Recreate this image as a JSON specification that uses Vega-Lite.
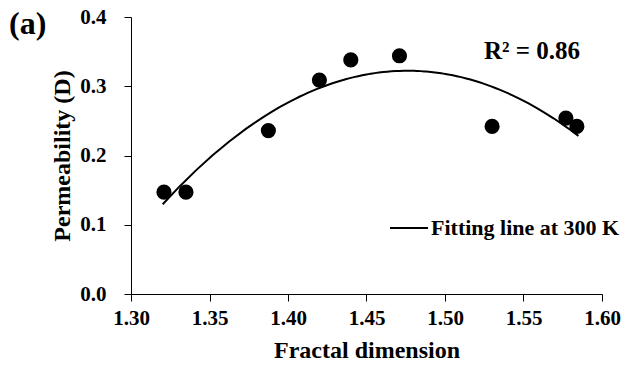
{
  "$schema": "https://vega.github.io/schema/vega-lite/v6.json",
  "width": 471,
  "height": 277,
  "autosize": {"type": "none"},
  "padding": {"left": 131, "top": 17, "right": 19, "bottom": 75},
  "background": "white",
  "title": {"text": "(a)", "anchor": "start", "frame": "group", "dx": -122, "dy": 35, "font": "Liberation Serif", "fontSize": 32, "fontWeight": "bold", "color": "black", "offset": 0},
  "config": {
    "view": {"stroke": null},
    "font": "Liberation Serif",
    "axis": {
      "grid": false,
      "domainColor": "black",
      "tickColor": "black",
      "labelColor": "black",
      "titleColor": "black",
      "labelFont": "Liberation Serif",
      "titleFont": "Liberation Serif",
      "labelFontWeight": "bold",
      "titleFontWeight": "bold",
      "labelFontSize": 21,
      "titleFontSize": 24,
      "tickSize": 7,
      "domainWidth": 1,
      "tickWidth": 1,
      "labelFlush": false
    }
  },
  "data": {"values": [
    {"fd": 1.321, "perm": 0.147},
    {"fd": 1.335, "perm": 0.147},
    {"fd": 1.3875, "perm": 0.236},
    {"fd": 1.420, "perm": 0.309},
    {"fd": 1.440, "perm": 0.338},
    {"fd": 1.471, "perm": 0.344},
    {"fd": 1.530, "perm": 0.242},
    {"fd": 1.577, "perm": 0.254},
    {"fd": 1.584, "perm": 0.242}
  ]},
  "layer": [
    {
      "mark": {"type": "point", "shape": "circle", "filled": true, "color": "black", "size": 230, "opacity": 1},
      "encoding": {
        "x": {"field": "fd", "type": "quantitative", "scale": {"domain": [1.3, 1.6], "nice": false, "zero": false}, "axis": {"title": "Fractal dimension", "format": ".2f", "values": [1.3, 1.35, 1.4, 1.45, 1.5, 1.55, 1.6], "labelPadding": 6, "titlePadding": 10}},
        "y": {"field": "perm", "type": "quantitative", "scale": {"domain": [0, 0.4], "nice": false}, "axis": {"title": "Permeability (D)", "format": ".1f", "values": [0, 0.1, 0.2, 0.3, 0.4], "labelPadding": 18, "titlePadding": 5}}
      }
    },
    {
      "transform": [{"regression": "perm", "on": "fd", "method": "poly", "order": 2, "extent": [1.3202, 1.585]}],
      "mark": {"type": "line", "strokeWidth": 2},
      "encoding": {
        "x": {"field": "fd", "type": "quantitative"},
        "y": {"field": "perm", "type": "quantitative"},
        "color": {"datum": "Fitting line at 300 K", "type": "nominal", "scale": {"range": ["black"]},
          "legend": {"title": null, "orient": "none", "legendX": 258, "legendY": 191, "symbolType": "stroke", "symbolSize": 1444, "symbolStrokeWidth": 2, "labelFont": "Liberation Serif", "labelFontWeight": "bold", "labelFontSize": 22, "labelColor": "black", "labelOffset": 2, "labelLimit": 300}}
      }
    },
    {
      "data": {"values": [{"fd": 1.5248, "perm": 0.3395, "label": "R² = 0.86"}]},
      "mark": {"type": "text", "align": "left", "baseline": "alphabetic", "font": "Liberation Serif", "fontWeight": "bold", "fontSize": 25, "color": "black"},
      "encoding": {
        "x": {"field": "fd", "type": "quantitative"},
        "y": {"field": "perm", "type": "quantitative"},
        "text": {"field": "label"}
      }
    }
  ]
}
